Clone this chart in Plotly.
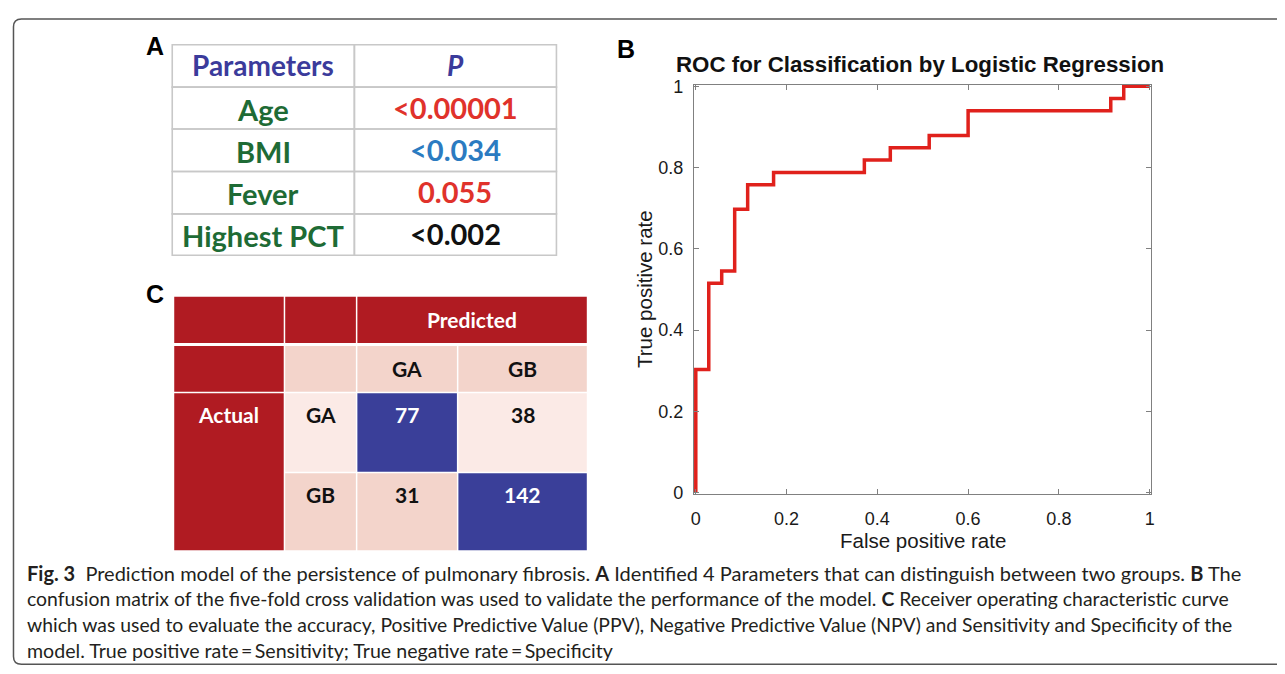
import plotly.graph_objects as go

W, H = 1285, 674
OFF = 8  # page body margin of the browser

# ---------------- data ----------------
roc_fpr = [0.0, 0.0, 0.0286, 0.0571, 0.0857, 0.1143, 0.1714, 0.3714, 0.4286, 0.5143, 0.6000, 0.9143, 0.9429, 1.0]
roc_tpr = [0.0, 0.3030, 0.5152, 0.5455, 0.6970, 0.7576, 0.7879, 0.8182, 0.8485, 0.8788, 0.9394, 0.9697, 1.0, 1.0]
roc_ticks = [0, 0.2, 0.4, 0.6, 0.8, 1]
roc_tick_labels = ["0", "0.2", "0.4", "0.6", "0.8", "1"]

param_names = ["Age", "BMI", "Fever", "Highest PCT"]
param_p = ["<0.00001", "<0.034", "0.055", "<0.002"]
table_header = ["Parameters", "<i>P</i>"]

cm_classes = ["GA", "GB"]
cm_values = [[77, 38], [31, 142]]
cm_pred_label = "Predicted"
cm_actual_label = "Actual"

caption_lines = [
    "<b>Fig. 3</b>  Prediction model of the persistence of pulmonary fibrosis. <b>A</b> Identified 4 Parameters that can distinguish between two groups. <b>B</b> The",
    "confusion matrix of the five-fold cross validation was used to validate the performance of the model. <b>C</b> Receiver operating characteristic curve",
    "which was used to evaluate the accuracy, Positive Predictive Value (PPV), Negative Predictive Value (NPV) and Sensitivity and Specificity of the",
    "model. True positive rate\u2009=\u2009Sensitivity; True negative rate\u2009=\u2009Specificity",
]

# ---------------- styles ----------------
p_colors = ["#E0322B", "#2B7BC1", "#E0322B", "#111111"]
header_color = "#3B3B9B"
param_color = "#1E6B35"
dark_red = "#B01B22"
pink = "#F3D4CB"
light_pink = "#FBEAE6"
blue = "#3A3F99"
roc_red = "#E0211C"
caption_sizes = [20.0, 19.4, 19.35, 19.6]


def px(x):
    return (x - OFF) / W


def py(y):
    return 1 - (y - OFF) / H


fig = go.Figure()

# ROC curve
fig.add_trace(go.Scatter(
    x=roc_fpr, y=roc_tpr, mode="lines", line=dict(color=roc_red, width=3.5, shape="hv"),
    hoverinfo="skip", showlegend=False,
))

x0p, x1p = 696, 1152
y1p, y0p = 80, 497
pad = 0.004
xr = [-pad, 1 + pad]
yr = [-pad, 1 + pad]
wpx = (x1p - x0p)
hpx = (y0p - y1p)
dom_x = [px(x0p - pad * wpx), px(x1p + pad * wpx)]
dom_y = [py(y0p + pad * hpx), py(y1p - pad * hpx)]

axis_common = dict(
    showgrid=False, zeroline=False, showline=True, linecolor="#808080", linewidth=1.3,
    mirror="ticks", ticks="inside", ticklen=5, tickwidth=1.2, tickcolor="#808080",
    tickvals=roc_ticks, ticktext=roc_tick_labels,
    tickfont=dict(family="Liberation Sans, Arial", size=18, color="#1a1a1a"),
)
fig.update_xaxes(domain=dom_x, range=xr, ticklabelstandoff=8, **axis_common)
fig.update_yaxes(domain=dom_y, range=yr, ticklabelstandoff=6, **axis_common)

ann = []


def text(x, y, s, size, color, family="Lato", xanchor="center", yanchor="middle"):
    ann.append(dict(x=px(x), y=py(y), xref="paper", yref="paper", text=s, showarrow=False,
                    xanchor=xanchor, yanchor=yanchor,
                    font=dict(family=family, size=size, color=color)))


# ROC titles
text(921, 58, "<b>ROC for Classification by Logistic Regression</b>", 22.3, "#111111",
     family="Liberation Sans, Arial")
text(924, 546, "False positive rate", 20.5, "#1a1a1a", family="Liberation Sans, Arial")
ann.append(dict(x=px(645), y=py(288), xref="paper", yref="paper", text="True positive rate",
                showarrow=False, textangle=-90, xanchor="center", yanchor="middle",
                font=dict(family="Liberation Sans, Arial", size=20.5, color="#1a1a1a")))

# panel letters
for lx, ly, lt in [(153, 39, "A"), (626, 42, "B"), (153, 293, "C")]:
    text(lx, ly, "<b>" + lt + "</b>", 25, "#000000", family="Liberation Sans, Arial")

shapes = []

# ---------------- Table A ----------------
ta_cols = [170, 353, 556]
ta_rows = [37.5, 81, 124, 167.5, 211, 253.5]
for ri in range(len(ta_rows) - 1):
    for ci in range(len(ta_cols) - 1):
        shapes.append(dict(type="rect", xref="paper", yref="paper",
                           x0=px(ta_cols[ci]), x1=px(ta_cols[ci + 1]),
                           y0=py(ta_rows[ri + 1]), y1=py(ta_rows[ri]),
                           line=dict(color="#C8C8C8", width=1.6), fillcolor="rgba(0,0,0,0)"))
cx_a = [(ta_cols[0] + ta_cols[1]) / 2, (ta_cols[1] + ta_cols[2]) / 2]
for ci, h in enumerate(table_header):
    text(cx_a[ci], (ta_rows[0] + ta_rows[1]) / 2 - 1, "<b>" + h + "</b>", 28, header_color)
for ri, (nm, pv) in enumerate(zip(param_names, param_p)):
    yc = (ta_rows[ri + 1] + ta_rows[ri + 2]) / 2
    text(cx_a[0], yc + 1, "<b>" + nm + "</b>", 29, param_color)
    text(cx_a[1], yc - 1, "<b>" + pv + "</b>", 29, p_colors[ri])

# ---------------- Confusion matrix C ----------------
cols = [(172, 282), (283.5, 354.5), (356, 456), (457.5, 586.5)]
rows = [(296, 343.5), (346.5, 393.5), (395, 475.5), (477, 556)]


def cell(c0, c1, r0, r1, fill):
    shapes.append(dict(type="rect", xref="paper", yref="paper",
                       x0=px(cols[c0][0]), x1=px(cols[c1][1]),
                       y0=py(rows[r1][1]), y1=py(rows[r0][0]),
                       line=dict(width=0), fillcolor=fill, layer="below"))


def ccx(c):
    return (cols[c][0] + cols[c][1]) / 2


cm_font = 21
cell(0, 0, 0, 0, dark_red)
cell(1, 1, 0, 0, dark_red)
cell(2, 3, 0, 0, dark_red)
text((cols[2][0] + cols[3][1]) / 2, 319, "<b>" + cm_pred_label + "</b>", cm_font, "#ffffff")
cell(0, 0, 1, 1, dark_red)
cell(1, 1, 1, 1, pink)
for j, cl in enumerate(cm_classes):
    cell(2 + j, 2 + j, 1, 1, pink)
    text(ccx(2 + j), 370, "<b>" + cl + "</b>", cm_font, "#111111")
cell(0, 0, 2, 3, dark_red)
text(ccx(0), 417, "<b>" + cm_actual_label + "</b>", cm_font, "#ffffff")
row_bg = [light_pink, pink]
for i, cl in enumerate(cm_classes):
    r = 2 + i
    ty = rows[r][0] + 22
    cell(1, 1, r, r, row_bg[i])
    text(ccx(1), ty, "<b>" + cl + "</b>", cm_font, "#111111")
    for j in range(len(cm_classes)):
        diag = i == j
        cell(2 + j, 2 + j, r, r, blue if diag else row_bg[i])
        text(ccx(2 + j), ty, "<b>" + str(cm_values[i][j]) + "</b>", cm_font,
             "#ffffff" if diag else "#111111")

# ---------------- caption ----------------
cap_y = [579, 606, 632, 659]
for ly, line, fs in zip(cap_y, caption_lines, caption_sizes):
    text(22, ly, line, fs, "#231F20", family="Lato", xanchor="left")

# ---------------- frame ----------------
r = 8
L, T, B, R = 10.5, 11, 673, 1300
path = (f"M {px(R)} {py(T)} L {px(L + r)} {py(T)} Q {px(L)} {py(T)} {px(L)} {py(T + r)} "
        f"L {px(L)} {py(B - r)} Q {px(L)} {py(B)} {px(L + r)} {py(B)} L {px(R)} {py(B)}")
shapes.append(dict(type="path", xref="paper", yref="paper", path=path,
                   line=dict(color="#555555", width=1.5)))

fig.update_layout(
    width=W, height=H, margin=dict(l=0, r=0, t=0, b=0),
    paper_bgcolor="white", plot_bgcolor="white",
    shapes=shapes, annotations=ann, showlegend=False,
)

fig.write_html("out.html")
